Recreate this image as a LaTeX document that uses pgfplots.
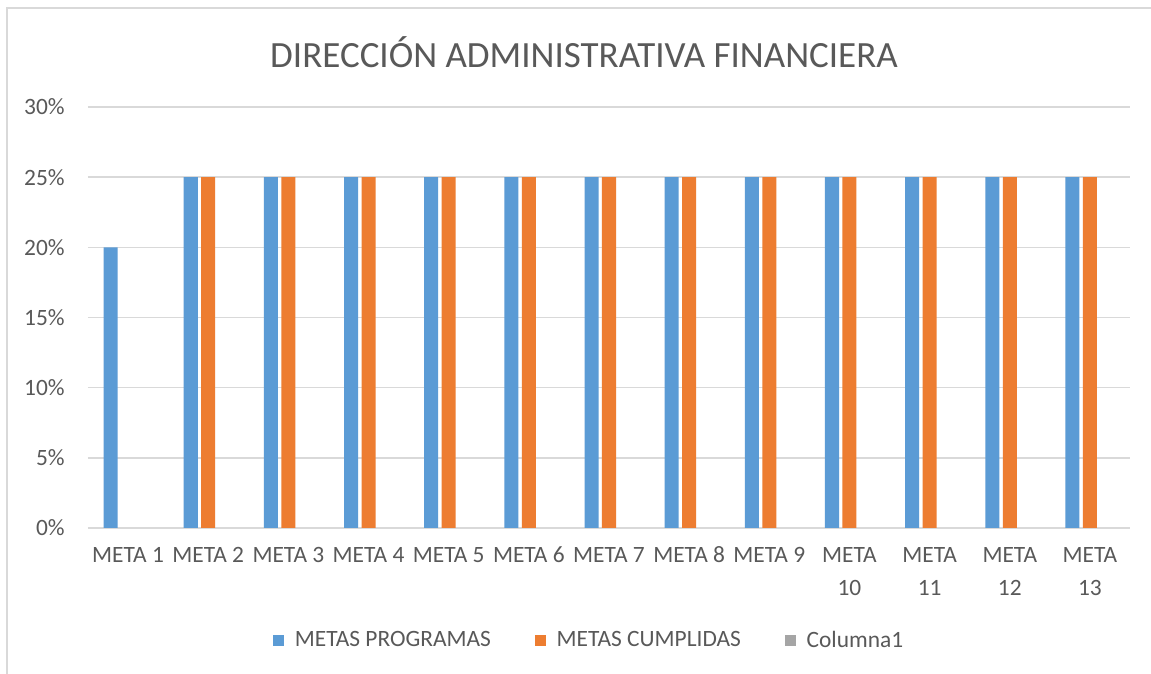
\documentclass[border=0pt]{standalone}
\usepackage{fontspec}
\setmainfont{Carlito}
\usepackage{pgfplots}
\pgfplotsset{compat=1.18}
\definecolor{cblue}{HTML}{5B9BD5}
\definecolor{corange}{HTML}{ED7D31}
\definecolor{cgray}{HTML}{A5A5A5}
\definecolor{cgrid}{HTML}{D9D9D9}
\definecolor{ctext}{HTML}{595959}
\newcommand{\St}{\rule{0pt}{9pt}}
\pgfplotsset{myleg/.style={legend image code/.code={\fill[##1] (0pt,-2.7pt) rectangle (5.4pt,2.7pt);}}}
\begin{document}
\begin{tikzpicture}
\useasboundingbox (0,0) rectangle (575.5pt,337pt);
\fill[white] (0,0) rectangle (575.5pt,337pt);
\draw[cgrid, line width=0.75pt] (3.5pt,0) -- (3.5pt,333pt) -- (575.5pt,333pt);
\begin{axis}[
  at={(44pt,73pt)}, anchor=south west, scale only axis,
  width=521pt, height=210.5pt,
  xmin=-0.5, xmax=12.5, ymin=0, ymax=30,
  xtick={0,...,12},
  xticklabels={\St META 1,\St META 2,\St META 3,\St META 4,\St META 5,\St META 6,\St META 7,\St META 8,\St META 9,\St META\\10,\St META\\11,\St META\\12,\St META\\13},
  ytick={0,5,10,15,20,25,30},
  yticklabels={0\%,5\%,10\%,15\%,20\%,25\%,30\%},
  ymajorgrids, grid style={cgrid, line width=0.75pt},
  axis line style={draw=none}, tick style={draw=none},
  major tick length=0pt,
  tick label style={font=\fontsize{11.7}{16.5}\selectfont, text=ctext},
  xticklabel style={anchor=north, inner sep=0pt, yshift=-8pt, align=center},
  yticklabel style={anchor=east, inner sep=0pt, xshift=-11.5pt},
  ybar, bar width=0.175,
  legend style={at={(0.48,-0.268)}, anchor=center, draw=none, fill=none,
    legend columns=3, font=\fontsize{11.7}{14}\selectfont, text=ctext,
    inner sep=0pt, nodes={inner sep=0pt},
    /tikz/every odd column/.append style={column sep=5.5pt},
    /tikz/every even column/.append style={column sep=22pt}},
  clip=false,
]
\addplot[fill=cblue, draw=none, bar shift=-0.218, myleg] coordinates {
  (0,20) (1,25) (2,25) (3,25) (4,25) (5,25) (6,25) (7,25) (8,25) (9,25) (10,25) (11,25) (12,25)};
\addlegendentry{METAS PROGRAMAS}
\addplot[fill=corange, draw=none, bar shift=0, myleg] coordinates {
  (1,25) (2,25) (3,25) (4,25) (5,25) (6,25) (7,25) (8,25) (9,25) (10,25) (11,25) (12,25)};
\addlegendentry{METAS CUMPLIDAS}
\addlegendimage{fill=cgray, draw=none, myleg}
\addlegendentry{Columna1}
\end{axis}
\node[text=ctext, font=\fontsize{18.5}{22}\selectfont, inner sep=0pt] at (292pt,311pt) {DIRECCIÓN ADMINISTRATIVA FINANCIERA};
\end{tikzpicture}
\end{document}
